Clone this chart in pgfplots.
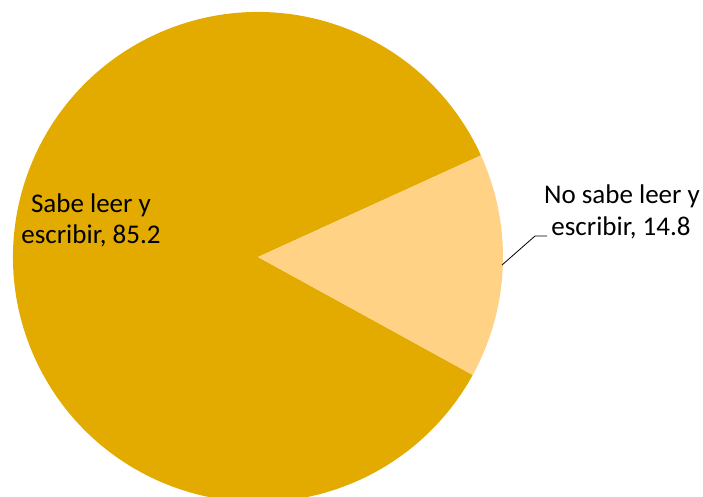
\documentclass[border=0pt]{standalone}
\usepackage{pgfplots}
\pgfplotsset{compat=1.18}
\usepackage{fontspec}
\setmainfont{Carlito}
\definecolor{bigc}{HTML}{E3AB00}
\definecolor{smallc}{HTML}{FFD285}
\begin{document}
\begin{tikzpicture}
\def\valA{85.2}
\def\valB{14.8}
\pgfmathsetmacro{\sweepB}{\valB/100*360}
\pgfmathsetmacro{\sweepA}{\valA/100*360}
\def\startang{24.5}
\begin{axis}[scale only axis, width=703pt, height=496pt,
  xmin=0, xmax=703, ymin=0, ymax=496, hide axis, clip=false]
  % big slice
  \fill[bigc] (axis cs:258,239) -- ++(\startang:245pt) arc[start angle=\startang, delta angle=\sweepA, radius=245pt] -- cycle;
  % small slice
  \fill[smallc] (axis cs:258,239) -- ++(\startang:245pt) arc[start angle=\startang, delta angle=-\sweepB, radius=245pt] -- cycle;
  \draw[black, line width=0.8pt] (axis cs:502,231) -- (axis cs:535,260) -- (axis cs:547,260);
  \node[anchor=base, font=\fontsize{27}{32}\selectfont] at (axis cs:91,284) {Sabe leer y};
  \node[anchor=base, font=\fontsize{27}{32}\selectfont] at (axis cs:91,253) {escribir, 85.2};
  \node[anchor=base, font=\fontsize{27}{32}\selectfont] at (axis cs:622,293) {No sabe leer y};
  \node[anchor=base, font=\fontsize{27}{32}\selectfont] at (axis cs:621,261) {escribir, 14.8};
\end{axis}
\pgfresetboundingbox
\path[use as bounding box] (current axis.south west) rectangle (current axis.north east);
\end{tikzpicture}
\end{document}
